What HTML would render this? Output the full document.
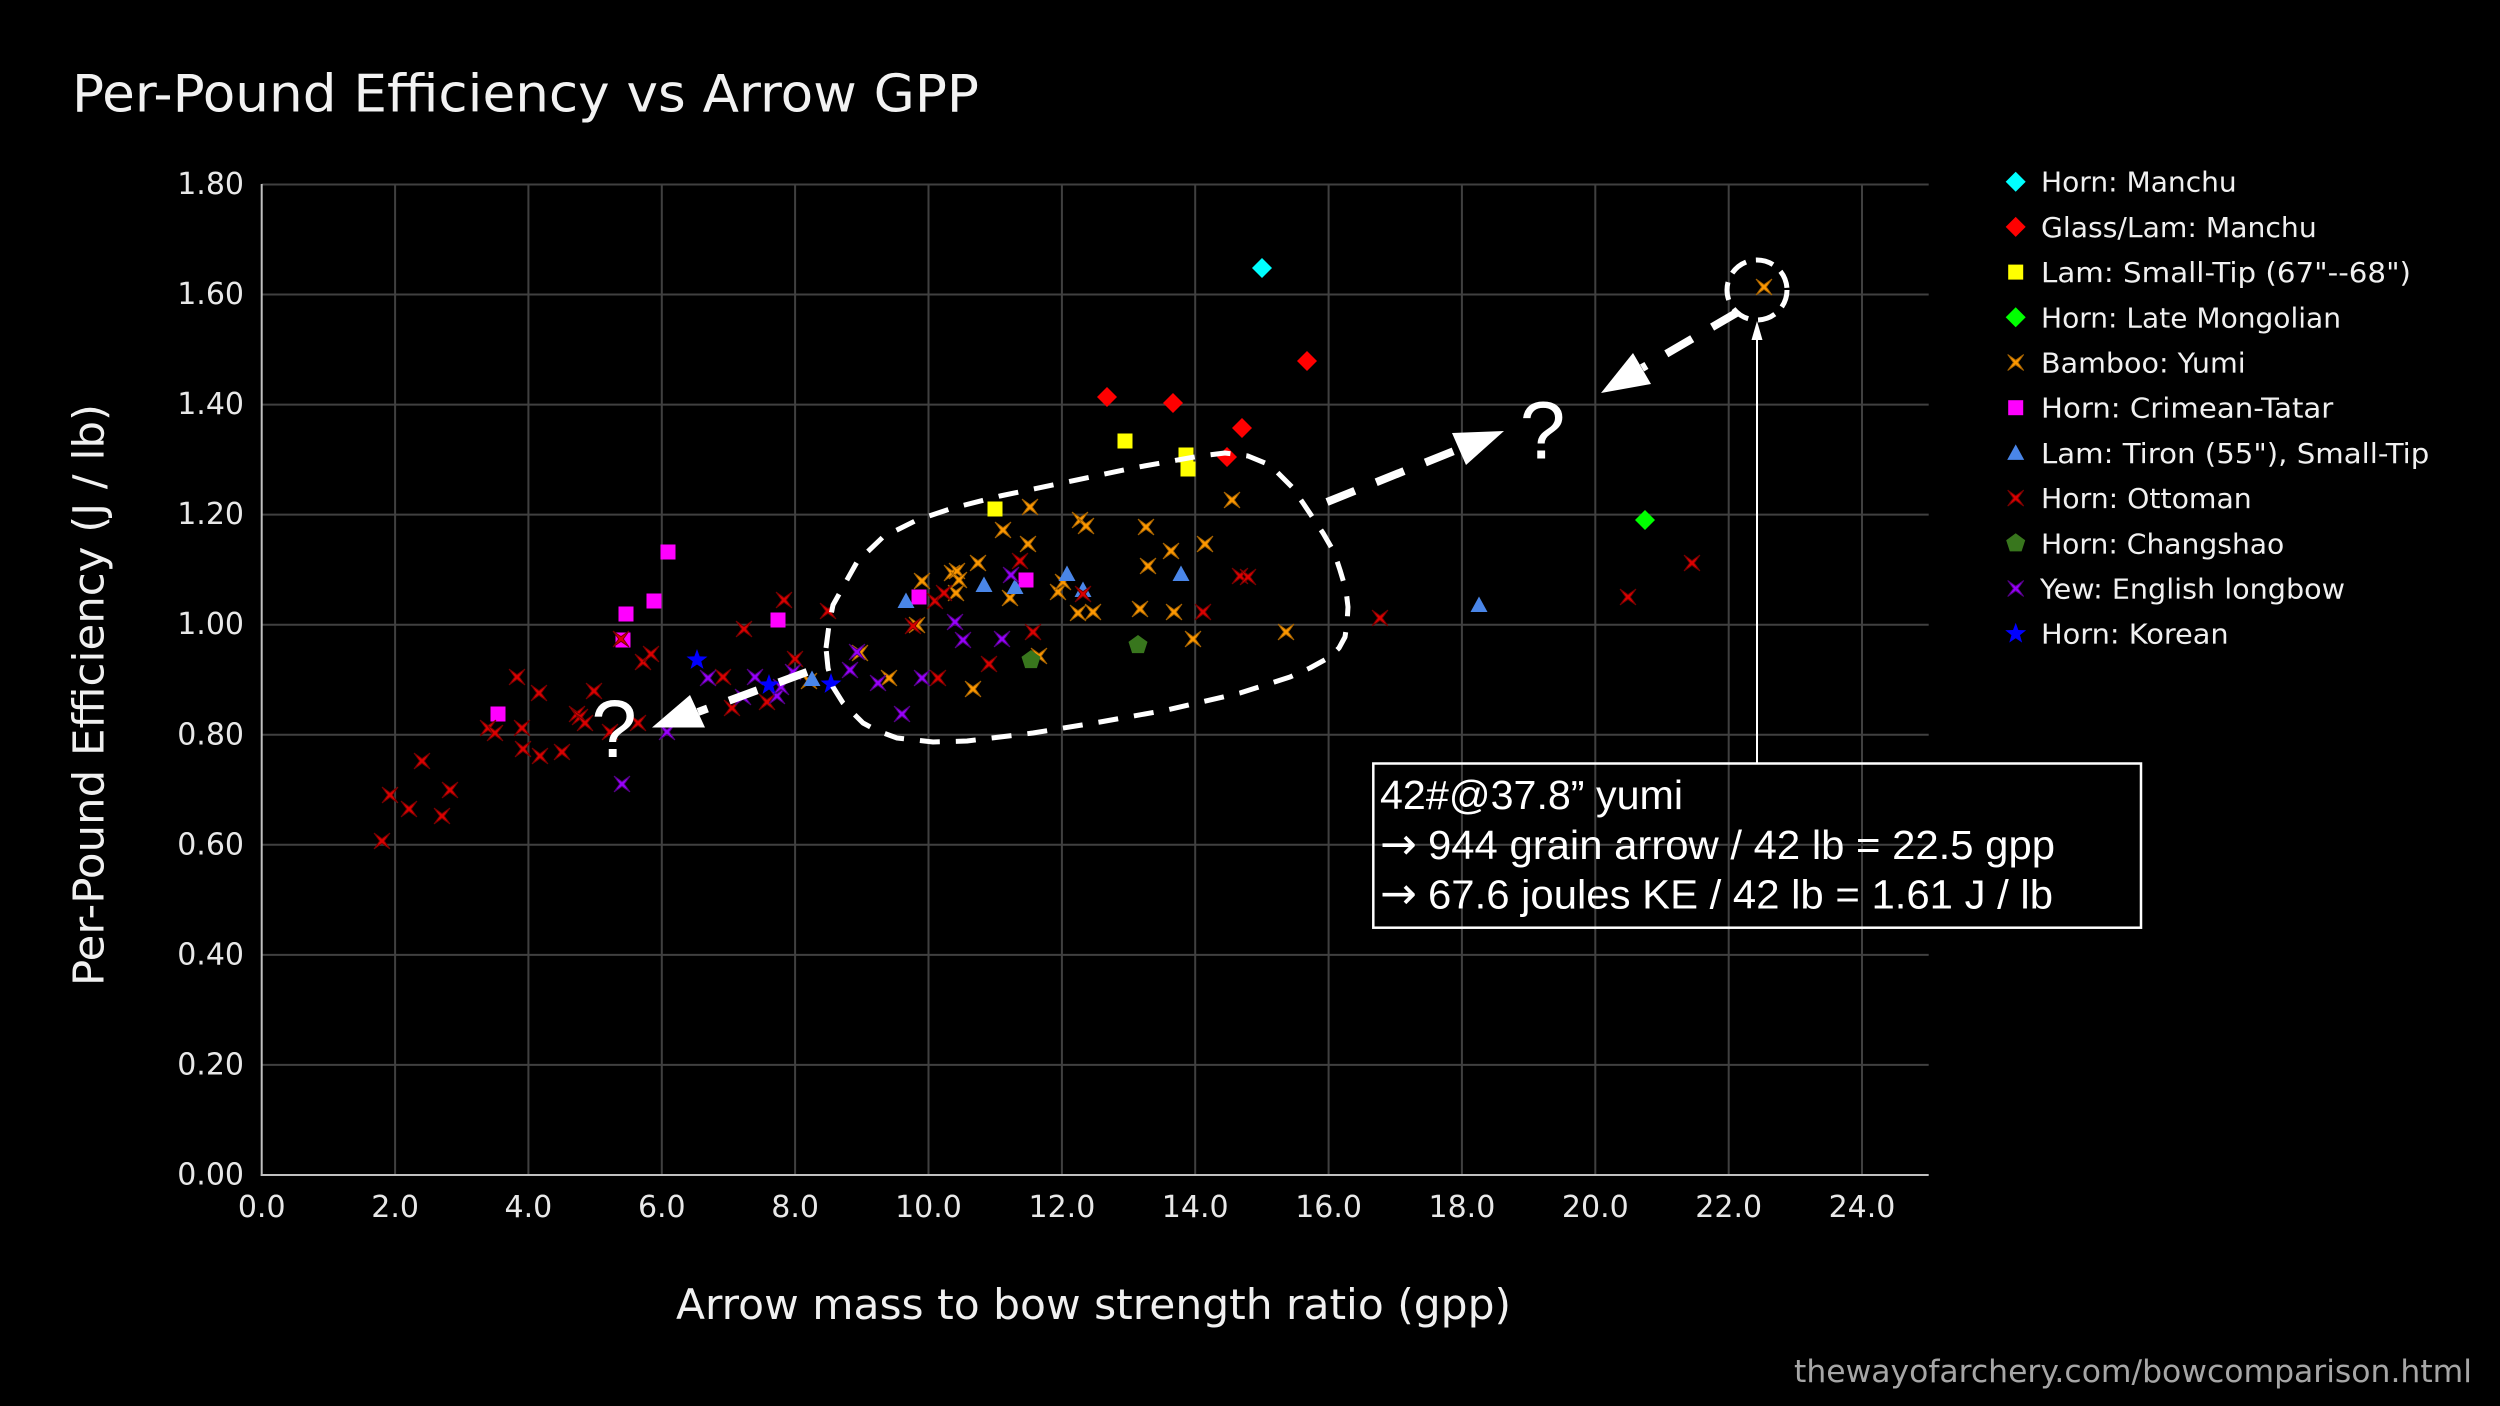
<!DOCTYPE html>
<html>
<head>
<meta charset="utf-8">
<style>
  html,body{margin:0;padding:0;background:#000;}
  svg{display:block;}
  .v{font-family:"DejaVu Sans","Liberation Sans",sans-serif;}
  .a{font-family:"Liberation Sans",Arial,sans-serif;}
</style>
</head>
<body>
<svg width="2500" height="1406" viewBox="0 0 2500 1406" xmlns="http://www.w3.org/2000/svg">
  <defs>
    <path id="xm" d="M-8,-8 L0,-2.3 L8,-8 L2.3,0 L8,8 L0,2.3 L-8,8 L-2.3,0Z"/>
    <path id="dm" d="M0,-10 L10,0 L0,10 L-10,0Z"/>
    <rect id="sq" x="-7.5" y="-7.5" width="15" height="15"/>
    <path id="tr" d="M0,-8.5 L8.5,7 L-8.5,7Z"/>
    <path id="pt" d="M0,-10 L9.51,-3.09 L5.88,8.09 L-5.88,8.09 L-9.51,-3.09Z"/>
    <path id="st" d="M0,-11 L2.65,-3.64 L10.46,-3.4 L4.28,1.39 L6.47,8.9 L0,4.5 L-6.47,8.9 L-4.28,1.39 L-10.46,-3.4 L-2.65,-3.64Z"/>
  </defs>
  <rect width="2500" height="1406" fill="#000"/>

  <!-- Title -->
  <text class="v" x="72" y="111.6" font-size="52" fill="#f2f2f2" textLength="907" lengthAdjust="spacingAndGlyphs">Per-Pound Efficiency vs Arrow GPP</text>

  <!-- Grid -->
  <g stroke="#404040" stroke-width="2">
    <line x1="261.7" y1="184.5" x2="1928.7" y2="184.5"/>
    <line x1="261.7" y1="294.5" x2="1928.7" y2="294.5"/>
    <line x1="261.7" y1="404.6" x2="1928.7" y2="404.6"/>
    <line x1="261.7" y1="514.6" x2="1928.7" y2="514.6"/>
    <line x1="261.7" y1="624.7" x2="1928.7" y2="624.7"/>
    <line x1="261.7" y1="734.8" x2="1928.7" y2="734.8"/>
    <line x1="261.7" y1="844.8" x2="1928.7" y2="844.8"/>
    <line x1="261.7" y1="954.9" x2="1928.7" y2="954.9"/>
    <line x1="261.7" y1="1064.9" x2="1928.7" y2="1064.9"/>
    <line x1="395.1" y1="184.5" x2="395.1" y2="1175"/>
    <line x1="528.4" y1="184.5" x2="528.4" y2="1175"/>
    <line x1="661.8" y1="184.5" x2="661.8" y2="1175"/>
    <line x1="795.1" y1="184.5" x2="795.1" y2="1175"/>
    <line x1="928.5" y1="184.5" x2="928.5" y2="1175"/>
    <line x1="1061.9" y1="184.5" x2="1061.9" y2="1175"/>
    <line x1="1195.2" y1="184.5" x2="1195.2" y2="1175"/>
    <line x1="1328.6" y1="184.5" x2="1328.6" y2="1175"/>
    <line x1="1461.9" y1="184.5" x2="1461.9" y2="1175"/>
    <line x1="1595.3" y1="184.5" x2="1595.3" y2="1175"/>
    <line x1="1728.7" y1="184.5" x2="1728.7" y2="1175"/>
    <line x1="1862.0" y1="184.5" x2="1862.0" y2="1175"/>
  </g>
  <!-- Axes -->
  <g stroke="#c0c0c0" stroke-width="2">
    <line x1="261.7" y1="184" x2="261.7" y2="1176"/>
    <line x1="260.7" y1="1175" x2="1928.7" y2="1175"/>
  </g>

  <!-- Y tick labels -->
  <g class="v" font-size="30" fill="#e8e8e8" text-anchor="end">
    <text x="244" y="194">1.80</text>
    <text x="244" y="304">1.60</text>
    <text x="244" y="414.1">1.40</text>
    <text x="244" y="524.1">1.20</text>
    <text x="244" y="634.2">1.00</text>
    <text x="244" y="744.3">0.80</text>
    <text x="244" y="854.3">0.60</text>
    <text x="244" y="964.4">0.40</text>
    <text x="244" y="1074.4">0.20</text>
    <text x="244" y="1184.5">0.00</text>
  </g>
  <!-- X tick labels -->
  <g class="v" font-size="30" fill="#e8e8e8" text-anchor="middle">
    <text x="261.7" y="1217">0.0</text>
    <text x="395.1" y="1217">2.0</text>
    <text x="528.4" y="1217">4.0</text>
    <text x="661.8" y="1217">6.0</text>
    <text x="795.1" y="1217">8.0</text>
    <text x="928.5" y="1217">10.0</text>
    <text x="1061.9" y="1217">12.0</text>
    <text x="1195.2" y="1217">14.0</text>
    <text x="1328.6" y="1217">16.0</text>
    <text x="1461.9" y="1217">18.0</text>
    <text x="1595.3" y="1217">20.0</text>
    <text x="1728.7" y="1217">22.0</text>
    <text x="1862.0" y="1217">24.0</text>
  </g>

  <!-- Axis titles -->
  <text class="v" x="676" y="1319" font-size="42" fill="#f0f0f0" textLength="835" lengthAdjust="spacingAndGlyphs">Arrow mass to bow strength ratio (gpp)</text>
  <text class="v" transform="translate(103.6,695) rotate(-90)" text-anchor="middle" font-size="43" fill="#f0f0f0" textLength="582" lengthAdjust="spacingAndGlyphs">Per-Pound Efficiency (J / lb)</text>

  <!-- Watermark -->
  <text class="v" x="1794" y="1382" font-size="31" fill="#a6a6a6" textLength="678" lengthAdjust="spacingAndGlyphs">thewayofarchery.com/bowcomparison.html</text>

  <!-- Data: Horn Manchu -->
  <g fill="#00ffff"><use href="#dm" x="1262" y="268"/></g>
  <!-- Glass/Lam Manchu -->
  <g fill="#ff0000">
    <use href="#dm" x="1107" y="397"/><use href="#dm" x="1173" y="403"/><use href="#dm" x="1242" y="428"/>
    <use href="#dm" x="1227" y="457"/><use href="#dm" x="1307" y="361"/>
  </g>
  <!-- Lam Small-Tip -->
  <g fill="#ffff00">
    <use href="#sq" x="995" y="509"/><use href="#sq" x="1125" y="441"/><use href="#sq" x="1186" y="455"/><use href="#sq" x="1188" y="469"/>
  </g>
  <!-- Late Mongolian -->
  <g fill="#00ff00"><use href="#dm" x="1645" y="520"/></g>
  <!-- Bamboo Yumi -->
  <g fill="#ff9900" stroke="#a86400" stroke-width="1">
    <use href="#xm" x="809" y="681"/><use href="#xm" x="860" y="653"/><use href="#xm" x="889" y="678"/><use href="#xm" x="917" y="625"/>
    <use href="#xm" x="922" y="581"/><use href="#xm" x="952" y="573"/><use href="#xm" x="957" y="571"/><use href="#xm" x="959" y="580"/>
    <use href="#xm" x="956" y="593"/><use href="#xm" x="973" y="689"/><use href="#xm" x="978" y="563"/><use href="#xm" x="1003" y="530"/>
    <use href="#xm" x="1010" y="598"/><use href="#xm" x="1028" y="544"/><use href="#xm" x="1030" y="507"/><use href="#xm" x="1039" y="656"/>
    <use href="#xm" x="1058" y="592"/><use href="#xm" x="1063" y="582"/><use href="#xm" x="1078" y="613"/><use href="#xm" x="1080" y="520"/>
    <use href="#xm" x="1086" y="526"/><use href="#xm" x="1093" y="612"/><use href="#xm" x="1140" y="609"/><use href="#xm" x="1146" y="527"/>
    <use href="#xm" x="1148" y="566"/><use href="#xm" x="1171" y="551"/><use href="#xm" x="1174" y="612"/><use href="#xm" x="1193" y="639"/>
    <use href="#xm" x="1205" y="544"/><use href="#xm" x="1232" y="500"/><use href="#xm" x="1286" y="632"/><use href="#xm" x="1764" y="287"/>
  </g>
  <!-- Crimean-Tatar -->
  <g fill="#ff00ff">
    <use href="#sq" x="498" y="714"/><use href="#sq" x="623" y="640"/><use href="#sq" x="626" y="614"/><use href="#sq" x="654" y="601"/>
    <use href="#sq" x="668" y="552"/><use href="#sq" x="778" y="620"/><use href="#sq" x="919" y="597"/><use href="#sq" x="1026" y="580"/>
  </g>
  <!-- Tiron -->
  <g fill="#4a86e8">
    <use href="#tr" x="812" y="679"/><use href="#tr" x="906" y="601"/><use href="#tr" x="984" y="585"/><use href="#tr" x="1015" y="587"/>
    <use href="#tr" x="1067" y="574"/><use href="#tr" x="1083" y="590"/><use href="#tr" x="1181" y="574"/><use href="#tr" x="1479" y="605"/>
  </g>
  <!-- Ottoman -->
  <g fill="#dd0000" stroke="#7a0000" stroke-width="1">
    <use href="#xm" x="382" y="841"/><use href="#xm" x="390" y="795"/><use href="#xm" x="409" y="809"/><use href="#xm" x="422" y="761"/>
    <use href="#xm" x="442" y="816"/><use href="#xm" x="450" y="790"/><use href="#xm" x="488" y="728"/><use href="#xm" x="495" y="733"/>
    <use href="#xm" x="517" y="677"/><use href="#xm" x="522" y="728"/><use href="#xm" x="523" y="749"/><use href="#xm" x="539" y="693"/>
    <use href="#xm" x="540" y="756"/><use href="#xm" x="562" y="752"/><use href="#xm" x="577" y="714"/><use href="#xm" x="580" y="717"/>
    <use href="#xm" x="585" y="723"/><use href="#xm" x="594" y="691"/><use href="#xm" x="610" y="732"/><use href="#xm" x="621" y="639"/>
    <use href="#xm" x="638" y="723"/><use href="#xm" x="643" y="662"/><use href="#xm" x="651" y="654"/><use href="#xm" x="723" y="677"/>
    <use href="#xm" x="732" y="708"/><use href="#xm" x="744" y="629"/><use href="#xm" x="767" y="702"/><use href="#xm" x="784" y="600"/>
    <use href="#xm" x="795" y="659"/><use href="#xm" x="828" y="611"/><use href="#xm" x="913" y="626"/><use href="#xm" x="935" y="601"/>
    <use href="#xm" x="944" y="593"/><use href="#xm" x="938" y="678"/><use href="#xm" x="989" y="664"/><use href="#xm" x="1020" y="561"/>
    <use href="#xm" x="1033" y="632"/><use href="#xm" x="1083" y="594"/><use href="#xm" x="1203" y="612"/><use href="#xm" x="1240" y="576"/>
    <use href="#xm" x="1248" y="577"/><use href="#xm" x="1380" y="618"/><use href="#xm" x="1628" y="597"/><use href="#xm" x="1692" y="563"/>
  </g>
  <!-- Changshao -->
  <g fill="#38761d"><use href="#pt" x="1031" y="660"/><use href="#pt" x="1138" y="645"/></g>
  <!-- Yew -->
  <g fill="#9900ff" stroke="#550088" stroke-width="1">
    <use href="#xm" x="622" y="784"/><use href="#xm" x="667" y="732"/><use href="#xm" x="708" y="678"/><use href="#xm" x="743" y="697"/>
    <use href="#xm" x="755" y="677"/><use href="#xm" x="777" y="696"/><use href="#xm" x="781" y="687"/><use href="#xm" x="793" y="672"/>
    <use href="#xm" x="850" y="670"/><use href="#xm" x="857" y="652"/><use href="#xm" x="878" y="683"/><use href="#xm" x="902" y="714"/>
    <use href="#xm" x="922" y="678"/><use href="#xm" x="955" y="622"/><use href="#xm" x="963" y="640"/><use href="#xm" x="1002" y="639"/>
    <use href="#xm" x="1011" y="575"/>
  </g>
  <!-- Korean -->
  <g fill="#0000ff"><use href="#st" x="697" y="660"/><use href="#st" x="769" y="685"/><use href="#st" x="831" y="684"/></g>

  <!-- Big dashed loop -->
  <polyline fill="none" stroke="#fff" stroke-width="5" stroke-dasharray="20 16" stroke-linejoin="round"
    points="826,648 829,625 833,605 843,587 857,562 883,537 917,520 953,508 1000,496 1067,482 1133,468 1200,456 1225,453 1248,456 1265,463 1277,472 1292,487 1303,503 1323,533 1334,552 1340,570 1346,590 1348,607 1347,623 1345,637 1339,648 1330,657 1310,668 1290,677 1240,693 1167,710 1100,722 1033,733 967,741 933,742 897,738 878,731 863,723 843,703 833,687 828,668 826,648"/>

  <!-- Small dashed circle -->
  <circle cx="1757" cy="290" r="30" fill="none" stroke="#fff" stroke-width="5" stroke-dasharray="18 10"/>

  <!-- Dashed arrows -->
  <g stroke="#fff" stroke-width="8" stroke-dasharray="30 23" fill="none">
    <line x1="807" y1="672" x2="698" y2="712"/>
    <line x1="1327" y1="502" x2="1459" y2="449"/>
    <line x1="1738" y1="312" x2="1642" y2="368"/>
  </g>
  <g fill="#fff">
    <polygon points="652,727.5 690,695 705,727.5"/>
    <polygon points="1504,431 1452,433 1466,465"/>
    <polygon points="1601,393 1633,353 1651,384"/>
    <polygon points="1757,321 1751.5,340 1762.5,340"/>
  </g>
  <line x1="1757" y1="338" x2="1757" y2="764" stroke="#fff" stroke-width="2"/>

  <!-- Question marks -->
  <text class="a" x="614" y="757" font-size="82" fill="#fff" text-anchor="middle">?</text>
  <text class="a" x="1542.5" y="458.5" font-size="82" fill="#fff" text-anchor="middle">?</text>

  <!-- Annotation box -->
  <rect x="1373.3" y="763.5" width="767.7" height="164.2" fill="none" stroke="#fff" stroke-width="2.5"/>
  <g class="a" font-size="41" fill="#fff">
    <text x="1380" y="809" textLength="303" lengthAdjust="spacingAndGlyphs">42#@37.8” yumi</text>
    <text x="1380" y="859" font-family="DejaVu Sans, sans-serif" font-size="44">→</text>
    <text x="1428" y="859" textLength="627" lengthAdjust="spacingAndGlyphs">944 grain arrow / 42 lb = 22.5 gpp</text>
    <text x="1380" y="908.5" font-family="DejaVu Sans, sans-serif" font-size="44">→</text>
    <text x="1428" y="908.5" textLength="625" lengthAdjust="spacingAndGlyphs">67.6 joules KE / 42 lb = 1.61 J / lb</text>
  </g>

  <!-- Legend -->
  <use href="#dm" x="2015.7" y="181.7" fill="#00ffff"/>
  <use href="#dm" x="2015.7" y="226.9" fill="#ff0000"/>
  <use href="#sq" x="2015.7" y="272.1" fill="#ffff00"/>
  <use href="#dm" x="2015.7" y="317.3" fill="#00ff00"/>
  <use href="#xm" x="2015.7" y="362.5" fill="#ff9900" stroke="#a86400" stroke-width="1"/>
  <use href="#sq" x="2015.7" y="407.7" fill="#ff00ff"/>
  <use href="#tr" x="2015.7" y="452.9" fill="#4a86e8"/>
  <use href="#xm" x="2015.7" y="498.1" fill="#dd0000" stroke="#7a0000" stroke-width="1"/>
  <use href="#pt" x="2015.7" y="543.3" fill="#38761d"/>
  <use href="#xm" x="2015.7" y="588.5" fill="#9900ff" stroke="#550088" stroke-width="1"/>
  <use href="#st" x="2015.7" y="633.7" fill="#0000ff"/>
  <g class="v" font-size="28" fill="#f0f0f0">
    <text x="2041" y="191.7" textLength="195.7" lengthAdjust="spacingAndGlyphs">Horn: Manchu</text>
    <text x="2041" y="236.9" textLength="275.7" lengthAdjust="spacingAndGlyphs">Glass/Lam: Manchu</text>
    <text x="2041" y="282.1" textLength="370" lengthAdjust="spacingAndGlyphs">Lam: Small-Tip (67"--68")</text>
    <text x="2041" y="327.3" textLength="300" lengthAdjust="spacingAndGlyphs">Horn: Late Mongolian</text>
    <text x="2041" y="372.5" textLength="204.7" lengthAdjust="spacingAndGlyphs">Bamboo: Yumi</text>
    <text x="2041" y="417.7" textLength="292.3" lengthAdjust="spacingAndGlyphs">Horn: Crimean-Tatar</text>
    <text x="2041" y="462.9" textLength="388.3" lengthAdjust="spacingAndGlyphs">Lam: Tiron (55"), Small-Tip</text>
    <text x="2041" y="508.1" textLength="210.7" lengthAdjust="spacingAndGlyphs">Horn: Ottoman</text>
    <text x="2041" y="553.3" textLength="243.3" lengthAdjust="spacingAndGlyphs">Horn: Changshao</text>
    <text x="2040" y="598.5" textLength="305" lengthAdjust="spacingAndGlyphs">Yew: English longbow</text>
    <text x="2041" y="643.7" textLength="187.7" lengthAdjust="spacingAndGlyphs">Horn: Korean</text>
  </g>
</svg>
</body>
</html>
